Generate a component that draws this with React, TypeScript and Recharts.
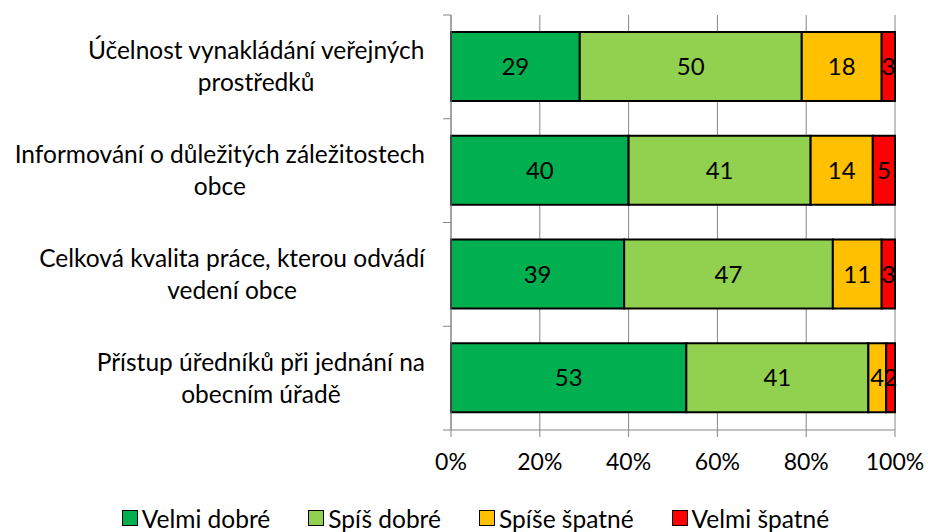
import React from "react";
import { BarChart, Bar, XAxis, YAxis, CartesianGrid, LabelList, Legend } from "recharts";

const categories = [
  "Účelnost vynakládání veřejných\nprostředků",
  "Informování o důležitých záležitostech\nobce",
  "Celková kvalita práce, kterou odvádí\nvedení obce",
  "Přístup úředníků při jednání na\nobecním úřadě",
];
const velmiDobre = [29, 40, 39, 53];
const spisDobre = [50, 41, 47, 41];
const spiseSpatne = [18, 14, 11, 4];
const velmiSpatne = [3, 5, 3, 2];
const percentTicks = [0, 20, 40, 60, 80, 100];
const seriesNames = ["Velmi dobré", "Spíš dobré", "Spíše špatné", "Velmi špatné"];
const seriesColors = ["#00B050", "#92D050", "#FFC000", "#FF0000"];

const data = categories.map((name, i) => ({
  name,
  s0: velmiDobre[i],
  s1: spisDobre[i],
  s2: spiseSpatne[i],
  s3: velmiSpatne[i],
}));

const FONT = "Lato, sans-serif";
const AXIS_X = 451;
const PLOT_TOP = 15;
const PLOT_BOTTOM = 430;
const BAND = (PLOT_BOTTOM - PLOT_TOP) / categories.length;
const GRID = "#868686";

let ctx: CanvasRenderingContext2D | null = null;
function textWidth(s: string, font: string) {
  if (!ctx) ctx = document.createElement("canvas").getContext("2d");
  if (!ctx) return s.length * 10;
  ctx.font = font;
  return ctx.measureText(s).width;
}

function CategoryTick(props: any) {
  const { y, payload, index } = props;
  const lines = String(payload.value).split("\n");
  const size = 24.5;
  const widest = Math.max(...lines.map((l) => textWidth(l, `${size}px Lato`)));
  const cx = 425 - widest / 2;
  const lh = 32;
  const y0 = y - ((lines.length - 1) * lh) / 2;
  return (
    <g>
      <line x1={AXIS_X - 8} x2={AXIS_X} y1={y - BAND / 2} y2={y - BAND / 2} stroke={GRID} />
      {index === categories.length - 1 && (
        <line x1={AXIS_X - 8} x2={AXIS_X} y1={y + BAND / 2} y2={y + BAND / 2} stroke={GRID} />
      )}
      <text x={cx} textAnchor="middle" fontFamily={FONT} fontSize={size} fill="#000">
        {lines.map((l, i) => (
          <tspan key={i} x={cx} y={y0 + i * lh} dy="0.35em">
            {l}
          </tspan>
        ))}
      </text>
    </g>
  );
}

function LegendContent() {
  return (
    <div
      style={{
        display: "flex",
        justifyContent: "center",
        paddingLeft: 56,
        height: 30,
        alignItems: "center",
        fontFamily: FONT,
        fontSize: 24.5,
        color: "#000",
      }}
    >
      {seriesNames.map((n, i) => (
        <span key={n} style={{ display: "inline-flex", alignItems: "center", marginRight: i < 3 ? 38 : 0 }}>
          <span
            style={{
              width: 14,
              height: 14,
              background: seriesColors[i],
              border: "1.5px solid #000",
              marginRight: 4,
              display: "inline-block",
            }}
          />
          {n}
        </span>
      ))}
    </div>
  );
}

export default function App() {
  return (
    <div>
      <style>{"body{margin:0}"}</style>
      <BarChart
        width={928}
        height={532}
        data={data}
        layout="vertical"
        margin={{ top: PLOT_TOP, right: 33, bottom: 0, left: 0 }}
        barSize={69}
      >
        <CartesianGrid horizontal={false} stroke={GRID} />
        <XAxis
          type="number"
          domain={[0, 100]}
          ticks={percentTicks}
          tickFormatter={(v: number) => `${v}%`}
          tick={{ fontSize: 23, fill: "#000", fontFamily: FONT }}
          tickLine={{ stroke: GRID }}
          axisLine={{ stroke: GRID }}
          tickSize={7}
          tickMargin={17}
          height={72}
        />
        <YAxis
          type="category"
          dataKey="name"
          width={AXIS_X}
          tickLine={false}
          axisLine={{ stroke: GRID }}
          tick={<CategoryTick />}
          interval={0}
        />
        <Legend verticalAlign="bottom" content={<LegendContent />} wrapperStyle={{ bottom: -1 }} />
        {["s0", "s1", "s2", "s3"].map((key, i) => (
          <Bar
            key={key}
            dataKey={key}
            name={seriesNames[i]}
            stackId="a"
            fill={seriesColors[i]}
            stroke="#000"
            strokeWidth={2}
            isAnimationActive={false}
          >
            <LabelList dataKey={key} position="center" fill="#000" fontSize={24} fontFamily={FONT} />
          </Bar>
        ))}
      </BarChart>
    </div>
  );
}
